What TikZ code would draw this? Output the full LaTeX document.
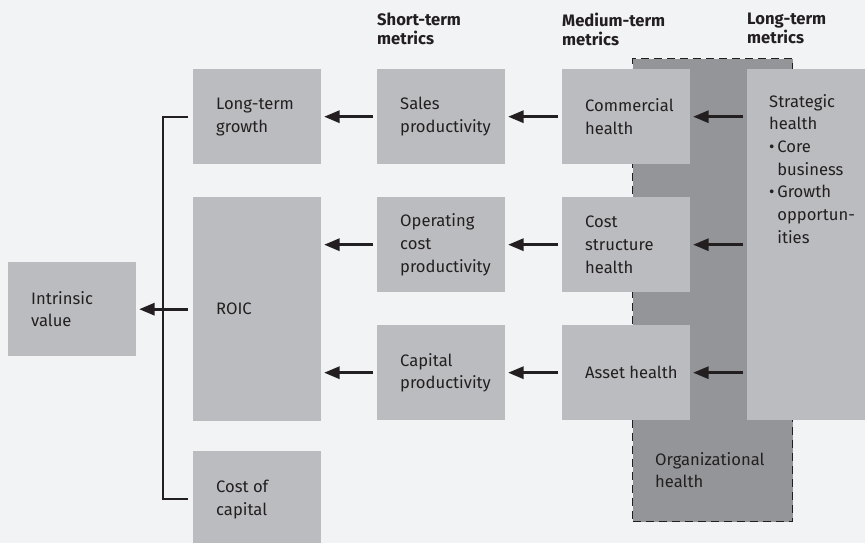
\documentclass[tikz,border=0pt]{standalone}
\usepackage{fontspec}
\setmainfont{Fira Sans}
\usetikzlibrary{arrows}
\definecolor{pagegray}{HTML}{F2F3F5}
\definecolor{boxgray}{HTML}{BBBCBF}
\definecolor{orggray}{HTML}{949598}
\definecolor{inkblack}{HTML}{231F20}

\begin{document}
\begin{tikzpicture}[line cap=butt,line join=miter,>=triangle 45,x=1pt,y=-1pt,
	box/.style={fill=boxgray,inner sep=0pt,minimum width=128pt,minimum height=95pt,anchor=north west},
	txt/.style={anchor=west,align=left,inner sep=0pt,font=\fontsize{16.6}{22.7}\selectfont,text=inkblack},
	head/.style={anchor=north west,align=left,inner sep=0pt,font=\fontsize{16.6}{18.5}\selectfont\bfseries,text=inkblack},
	arr/.style={->,line width=2.6pt,draw=inkblack,shorten <=4pt,shorten >=3pt},
	bracket/.style={line width=2.4pt,draw=inkblack}]
	\fill[pagegray] (0,0) rectangle (865,543);
	\useasboundingbox (0,0) rectangle (865,543);
	
	% organizational health band
	\node[fill=orggray,draw=inkblack,dashed,line width=1.3pt,dash pattern=on 8pt off 5pt,
		inner sep=0pt,minimum width=160pt,minimum height=463pt,anchor=north west] (org) at (632,58) {};
	
	\node[box,minimum height=94pt] (value) at (8,262) {};
	\node[box] (growth) at (193,69) {};
	\node[box,minimum height=224pt] (roic) at (193,197) {};
	\node[box,minimum height=96pt] (capcost) at (193,451) {};
	\node[box] (sales) at (377,69) {};
	\node[box] (opcost) at (377,197) {};
	\node[box] (capprod) at (377,325) {};
	\node[box] (commercial) at (562,69) {};
	\node[box] (coststruct) at (562,197) {};
	\node[box] (asset) at (562,325) {};
	\node[box,minimum width=125pt,minimum height=351pt] (strategic) at (747,69) {};
	
	\node[head] (hshort) at (377,13) {Short-term\\metrics};
	\node[head] (hmedium) at (562,13) {Medium-term\\metrics};
	\node[head] (hlong) at (747,13) {Long-term\\metrics};
	
	\node[txt] (tvalue) at ([xshift=23pt]value.west) {Intrinsic\\value};
	\node[txt] (tgrowth) at ([xshift=23pt]growth.west) {Long-term\\growth};
	\node[txt] (troic) at ([xshift=23pt]roic.west) {ROIC};
	\node[txt] (tcapcost) at ([xshift=23pt]capcost.west) {Cost of\\capital};
	\node[txt] (tsales) at ([xshift=23pt]sales.west) {Sales\\productivity};
	\node[txt] (topcost) at ([xshift=23pt]opcost.west) {Operating\\cost\\productivity};
	\node[txt] (tcapprod) at ([xshift=23pt]capprod.west) {Capital\\productivity};
	\node[txt] (tcommercial) at ([xshift=23pt]commercial.west) {Commercial\\health};
	\node[txt] (tcoststruct) at ([xshift=23pt]coststruct.west) {Cost\\structure\\health};
	\node[txt] (tasset) at ([xshift=23pt]asset.west) {Asset health};
	\node[txt,anchor=north west] (tstrategic) at ([shift={(22pt,-25pt)}]strategic.north west)
		{Strategic\\health\\\textbullet\,Core\\\hphantom{\textbullet\,}business\\\textbullet\,Growth\\\hphantom{\textbullet\,}opportun-\\\hphantom{\textbullet\,}ities};
	\node[txt] (torg) at (655,470) {Organizational\\health};
	
	% arrows between columns
	\draw[arr] (sales.west) -- (growth.east);
	\draw[arr] (opcost.west) -- (opcost.west -| roic.east);
	\draw[arr] (capprod.west) -- (capprod.west -| roic.east);
	\draw[arr] (commercial.west) -- (sales.east);
	\draw[arr] (coststruct.west) -- (opcost.east);
	\draw[arr] (asset.west) -- (capprod.east);
	\draw[arr] (strategic.west |- commercial.east) -- (commercial.east);
	\draw[arr] (strategic.west |- coststruct.east) -- (coststruct.east);
	\draw[arr] (strategic.west |- asset.east) -- (asset.east);
	
	% bracket into intrinsic value
	\coordinate (bk) at (163,0);
	\draw[bracket] ([xshift=-5pt]growth.west) -- (growth.west -| bk) -- (capcost.west -| bk) -- ([xshift=-5pt]capcost.west);
	\draw[arr,shorten <=5pt] (roic.west) -- (value.east);
\end{tikzpicture}
\end{document}
